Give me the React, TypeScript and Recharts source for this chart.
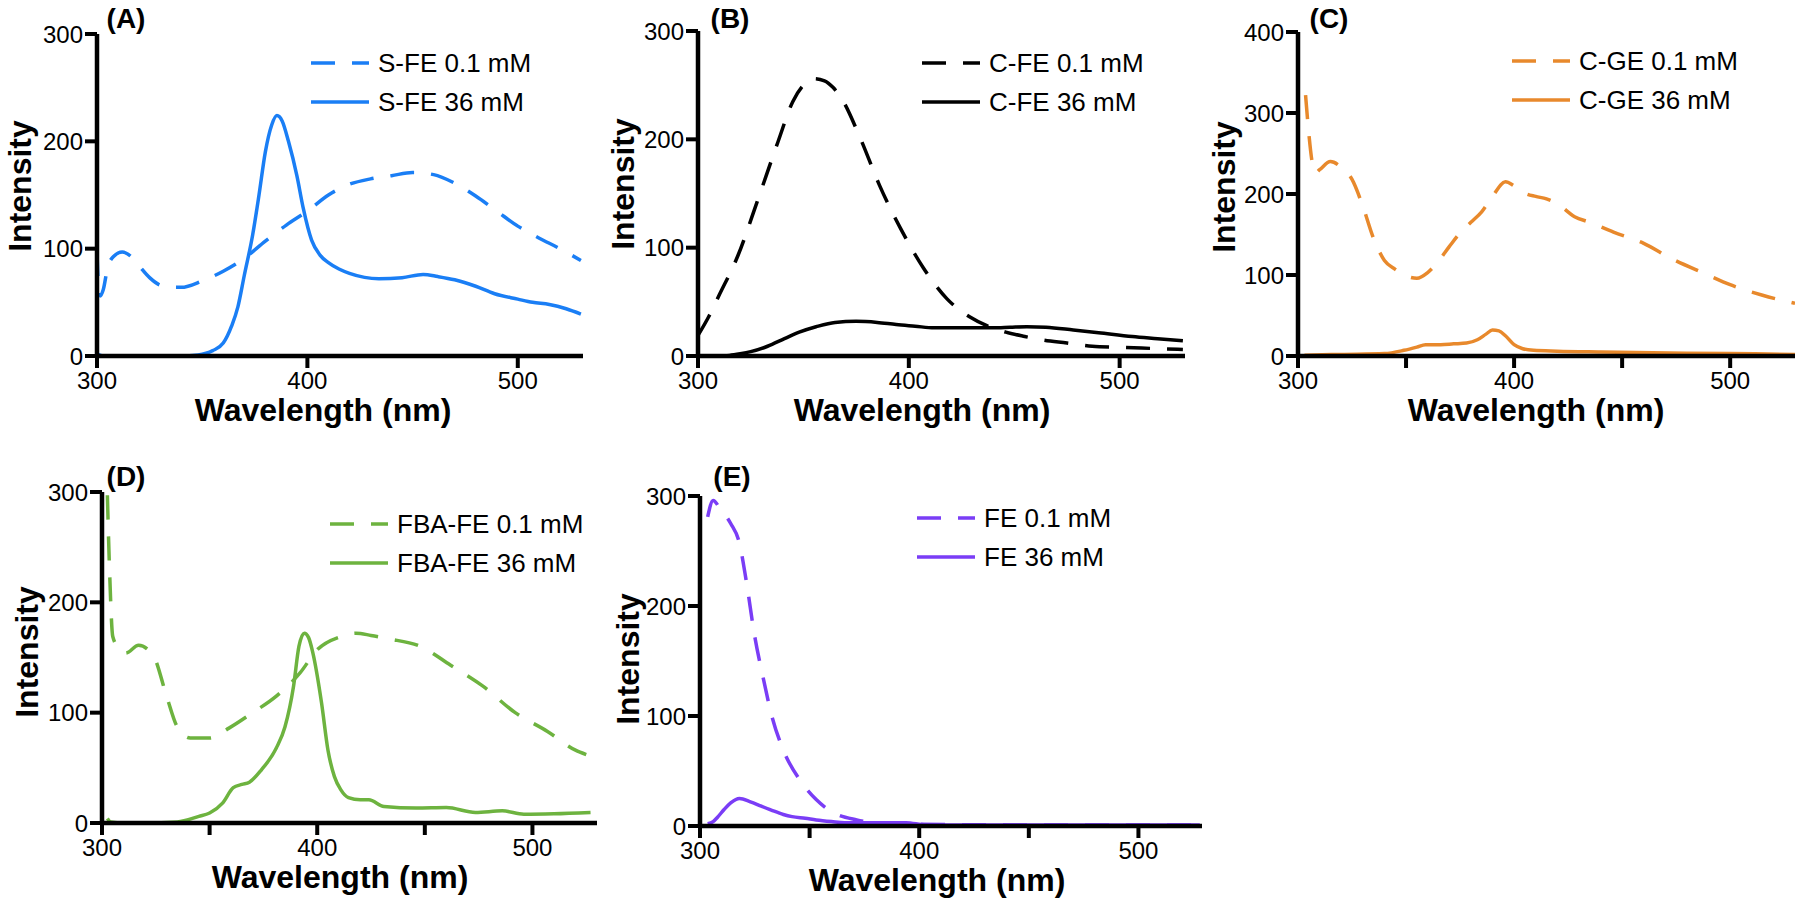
import React from 'react';
import { LineChart, Line, XAxis, YAxis, Legend } from 'recharts';

const FONT = '"Liberation Sans", Arial, Helvetica, sans-serif';

// (A) S-FE
const sfeLowWl = [300, 300.5, 301.5, 303, 305, 308, 312, 316, 320, 325, 330, 335, 340, 350, 360, 370, 380, 390, 400, 410, 420, 430, 440, 450, 460, 470, 480, 490, 500, 510, 520, 530];
const sfeLowVal = [97, 72, 56, 62, 82, 93, 97, 93, 84, 73, 66, 64, 64, 70, 79, 91, 107, 122, 135, 150, 160, 165, 168, 171, 169, 161, 149, 135, 121, 110, 100, 89];
const sfeHighWl = [300, 303, 310, 320, 340, 348, 355, 360, 364, 367, 370, 374, 377, 380, 383, 385.5, 388, 391, 395, 398, 402, 406, 410, 415, 420, 434, 445, 455, 462, 470, 480, 489, 500, 507, 515, 523, 530];
const sfeHighVal = [2, 0, 0, 0, 0, 1, 5, 12, 28, 46, 75, 113, 150, 190, 215, 224, 219, 200, 168, 138, 108, 94, 87, 81, 77, 72, 73, 76, 74, 71, 65, 58, 53, 50, 48, 44, 39];

// (B) C-FE
const cfeLowWl = [300, 305, 310, 319, 328, 338, 345, 350, 355, 360, 364, 368, 377, 386, 396, 407, 418, 429, 437, 446, 455, 463, 475, 487, 500, 515, 530];
const cfeLowVal = [19, 36, 56, 93, 142, 198, 235, 250, 256, 254, 248, 238, 201, 158, 118, 81, 53, 36, 28, 22, 18, 15, 12, 9, 8, 7, 6];
const cfeHighWl = [300, 310, 315, 320, 325, 333, 341, 348, 356, 365, 375, 385, 394, 403, 412, 422, 431, 440, 448, 456, 465, 478, 490, 506, 518, 530];
const cfeHighVal = [0, 0, 0.5, 2, 4, 9, 16, 22, 27, 31, 32, 31, 29, 27.5, 26, 26, 26, 26, 26.5, 27, 26.5, 24, 21.5, 18, 16, 14];

// (C) C-GE
const cgeLowWl = [303.5, 305, 306.5, 308, 310, 315, 320, 325, 330, 335, 340, 345, 350, 355, 360, 365, 370, 375, 380, 385, 390, 396, 400, 405, 410, 415, 420, 428, 435, 446, 460, 473, 488, 500, 515, 530];
const cgeLowVal = [322, 275, 240, 226, 230, 240, 233, 218, 185, 145, 118, 107, 99, 96, 103, 117, 135, 152, 165, 178, 197, 215, 210, 201, 197, 194, 188, 172, 165, 153, 139, 120, 102, 88, 75, 65];
const cgeHighWl = [303, 320, 340, 349, 355, 359, 366, 372, 378, 383, 387, 390, 393, 396, 400, 404, 409, 420, 440, 464, 500, 530];
const cgeHighVal = [1, 2, 3, 7, 11, 14, 14, 15, 16, 20, 27, 32, 31, 25, 14, 9, 7, 6, 5, 4, 3, 2];

// (D) FBA-FE
const fbaLowWl = [302.5, 303.5, 305, 308, 311, 317, 324, 330, 335, 341, 350, 359, 370, 381, 392, 400, 411, 418, 425, 433, 448, 462, 477, 492, 507, 520, 525];
const fbaLowVal = [297, 230, 169, 158, 154, 161, 151, 115, 87, 77, 77, 86, 100, 115, 136, 157, 169, 172, 170, 167, 160, 143, 124, 100, 83, 66, 62];
const fbaHighWl = [302.5, 304, 310, 320, 335, 345, 350, 356, 361, 365, 368.5, 374, 381, 385, 389, 391.5, 394, 396, 398, 402, 405, 408, 411, 414.5, 420, 424, 431, 446, 460, 473.5, 486, 496, 510, 527];
const fbaHighVal = [4, 1, 0, 0, 1, 6, 9, 18, 32, 35, 37, 48, 68, 87, 124, 160, 172, 168, 154, 109, 66, 42, 30, 23, 21, 21, 15, 13.5, 14, 9.6, 11, 8, 8.4, 9.6];

// (E) FE
const feLowWl = [303.5, 306, 309, 314, 318, 321, 325, 329, 332.5, 338, 345.5, 353, 360, 371.5, 384.5, 400, 450, 500, 528];
const feLowVal = [281, 296, 289, 275, 257, 224, 172, 133, 102, 69, 42, 24, 13, 5.5, 2.5, 1.5, 1, 1, 1];
const feHighWl = [303.5, 306, 308, 311, 314, 318, 323, 328, 332.5, 338, 342, 348, 353, 360, 366, 380, 394, 403, 450, 500, 528];
const feHighVal = [2, 4, 8, 15, 21, 25, 22, 18, 14.5, 10.5, 8.5, 7, 5.5, 4, 3, 3, 3, 1, 1, 1, 1];

const majorTicks = [300, 400, 500];
const minorTicks = [300, 350, 400, 450, 500];
const yTicks300 = [0, 100, 200, 300];
const yTicks400 = [0, 100, 200, 300, 400];

const zip = (wl: number[], vals: number[], key: string) =>
  wl.map((w, i) => ({ wl: w, [key]: vals[i] }));

const YW = 80;
const XH = 60;
const DASH = '24 17';

const panels = [
  {
    id: 'A', title: '(A)', color: '#1a7ef5',
    x0: 97, x1: 583, y0: 34, y1: 356, xMax: 531, yMax: 300, yTicks: yTicks300, xTicks: majorTicks,
    titlePos: [126, 19], ylabPos: [20, 186], xlabPos: [323, 410], legendPos: [311, 43],
    series: [
      { key: 'low', name: 'S-FE 0.1 mM', data: zip(sfeLowWl, sfeLowVal, 'low'), dashed: true },
      { key: 'high', name: 'S-FE 36 mM', data: zip(sfeHighWl, sfeHighVal, 'high'), dashed: false },
    ],
  },
  {
    id: 'B', title: '(B)', color: '#000000',
    x0: 698, x1: 1185, y0: 31, y1: 356, xMax: 531, yMax: 300, yTicks: yTicks300, xTicks: majorTicks,
    titlePos: [730, 19], ylabPos: [623, 184], xlabPos: [922, 410], legendPos: [922, 43],
    series: [
      { key: 'low', name: 'C-FE 0.1 mM', data: zip(cfeLowWl, cfeLowVal, 'low'), dashed: true },
      { key: 'high', name: 'C-FE 36 mM', data: zip(cfeHighWl, cfeHighVal, 'high'), dashed: false },
    ],
  },
  {
    id: 'C', title: '(C)', color: '#e8892c',
    x0: 1298, x1: 1795, y0: 32, y1: 356, xMax: 530, yMax: 400, yTicks: yTicks400, xTicks: minorTicks,
    titlePos: [1329, 19], ylabPos: [1224, 187], xlabPos: [1536, 410], legendPos: [1512, 41],
    series: [
      { key: 'low', name: 'C-GE 0.1 mM', data: zip(cgeLowWl, cgeLowVal, 'low'), dashed: true },
      { key: 'high', name: 'C-GE 36 mM', data: zip(cgeHighWl, cgeHighVal, 'high'), dashed: false },
    ],
  },
  {
    id: 'D', title: '(D)', color: '#6db33f',
    x0: 102, x1: 597, y0: 492, y1: 823, xMax: 530, yMax: 300, yTicks: yTicks300, xTicks: minorTicks,
    titlePos: [126, 477], ylabPos: [27, 652], xlabPos: [340, 877], legendPos: [330, 504],
    series: [
      { key: 'low', name: 'FBA-FE 0.1 mM', data: zip(fbaLowWl, fbaLowVal, 'low'), dashed: true },
      { key: 'high', name: 'FBA-FE 36 mM', data: zip(fbaHighWl, fbaHighVal, 'high'), dashed: false },
    ],
  },
  {
    id: 'E', title: '(E)', color: '#7a3df6',
    x0: 700, x1: 1202, y0: 496, y1: 826, xMax: 529, yMax: 300, yTicks: yTicks300, xTicks: minorTicks,
    titlePos: [732, 477], ylabPos: [628, 659], xlabPos: [937, 880], legendPos: [917, 498],
    series: [
      { key: 'low', name: 'FE 0.1 mM', data: zip(feLowWl, feLowVal, 'low'), dashed: true },
      { key: 'high', name: 'FE 36 mM', data: zip(feHighWl, feHighVal, 'high'), dashed: false },
    ],
  },
];

type PanelCfg = (typeof panels)[number];

function PanelLegend({ cfg }: { cfg: PanelCfg }) {
  return (
    <div style={{ fontFamily: FONT, fontSize: 26, color: '#000' }}>
      {cfg.series.map((s) => (
        <div key={s.key} style={{ display: 'flex', alignItems: 'center', height: 39 }}>
          <svg width={58} height={10} style={{ display: 'block' }}>
            <line x1={0} y1={5} x2={58} y2={5} stroke={cfg.color} strokeWidth={3.5}
              strokeDasharray={s.dashed ? DASH : undefined} />
          </svg>
          <span style={{ marginLeft: 9, lineHeight: 1, whiteSpace: 'nowrap' }}>{s.name}</span>
        </div>
      ))}
    </div>
  );
}

function Panel({ cfg }: { cfg: PanelCfg }) {
  const tickStyle = { fill: '#000', fontSize: 24, fontFamily: FONT };
  return (
    <>
      <LineChart
        width={1800}
        height={900}
        style={{ position: 'absolute', left: 0, top: 0 }}
        margin={{ top: cfg.y0, left: cfg.x0 - YW, right: 1800 - cfg.x1, bottom: 900 - cfg.y1 - XH }}
      >
        <XAxis
          type="number"
          dataKey="wl"
          domain={[300, cfg.xMax]}
          ticks={cfg.xTicks}
          tickFormatter={(v: number) => (v % 100 === 0 ? String(v) : '')}
          allowDataOverflow
          height={XH}
          tick={tickStyle}
          tickSize={12}
          tickMargin={4}
          axisLine={{ stroke: '#000', strokeWidth: 4.5 }}
          tickLine={{ stroke: '#000', strokeWidth: 4 }}
        />
        <YAxis
          type="number"
          domain={[0, cfg.yMax]}
          ticks={cfg.yTicks}
          allowDataOverflow
          width={YW}
          tick={tickStyle}
          tickSize={12}
          tickMargin={2}
          axisLine={{ stroke: '#000', strokeWidth: 4.5 }}
          tickLine={{ stroke: '#000', strokeWidth: 4 }}
        />
        <Legend
          layout="vertical"
          align="center"
          verticalAlign="middle"
          wrapperStyle={{ left: cfg.legendPos[0], top: cfg.legendPos[1], width: 'auto' }}
          content={() => <PanelLegend cfg={cfg} />}
        />
        {cfg.series.map((s) => (
          <Line
            key={s.key}
            data={s.data}
            dataKey={s.key}
            name={s.name}
            type="monotone"
            stroke={cfg.color}
            strokeWidth={3.5}
            strokeDasharray={s.dashed ? DASH : undefined}
            dot={false}
            activeDot={false}
            isAnimationActive={false}
          />
        ))}
      </LineChart>
      <div style={{ position: 'absolute', left: cfg.titlePos[0], top: cfg.titlePos[1], transform: 'translate(-50%,-50%)', fontFamily: FONT, fontWeight: 'bold', fontSize: 28, lineHeight: 1, whiteSpace: 'nowrap' }}>
        {cfg.title}
      </div>
      <div style={{ position: 'absolute', left: cfg.ylabPos[0], top: cfg.ylabPos[1], transform: 'translate(-50%,-50%) rotate(-90deg)', fontFamily: FONT, fontWeight: 'bold', fontSize: 32, lineHeight: 1, whiteSpace: 'nowrap' }}>
        Intensity
      </div>
      <div style={{ position: 'absolute', left: cfg.xlabPos[0], top: cfg.xlabPos[1], transform: 'translate(-50%,-50%)', fontFamily: FONT, fontWeight: 'bold', fontSize: 32, lineHeight: 1, whiteSpace: 'nowrap' }}>
        Wavelength (nm)
      </div>
    </>
  );
}

export default function App() {
  return (
    <div style={{ position: 'absolute', left: 0, top: 0, width: 1800, height: 900, background: '#fff', overflow: 'hidden' }}>
      {panels.map((p) => (
        <Panel key={p.id} cfg={p} />
      ))}
    </div>
  );
}
